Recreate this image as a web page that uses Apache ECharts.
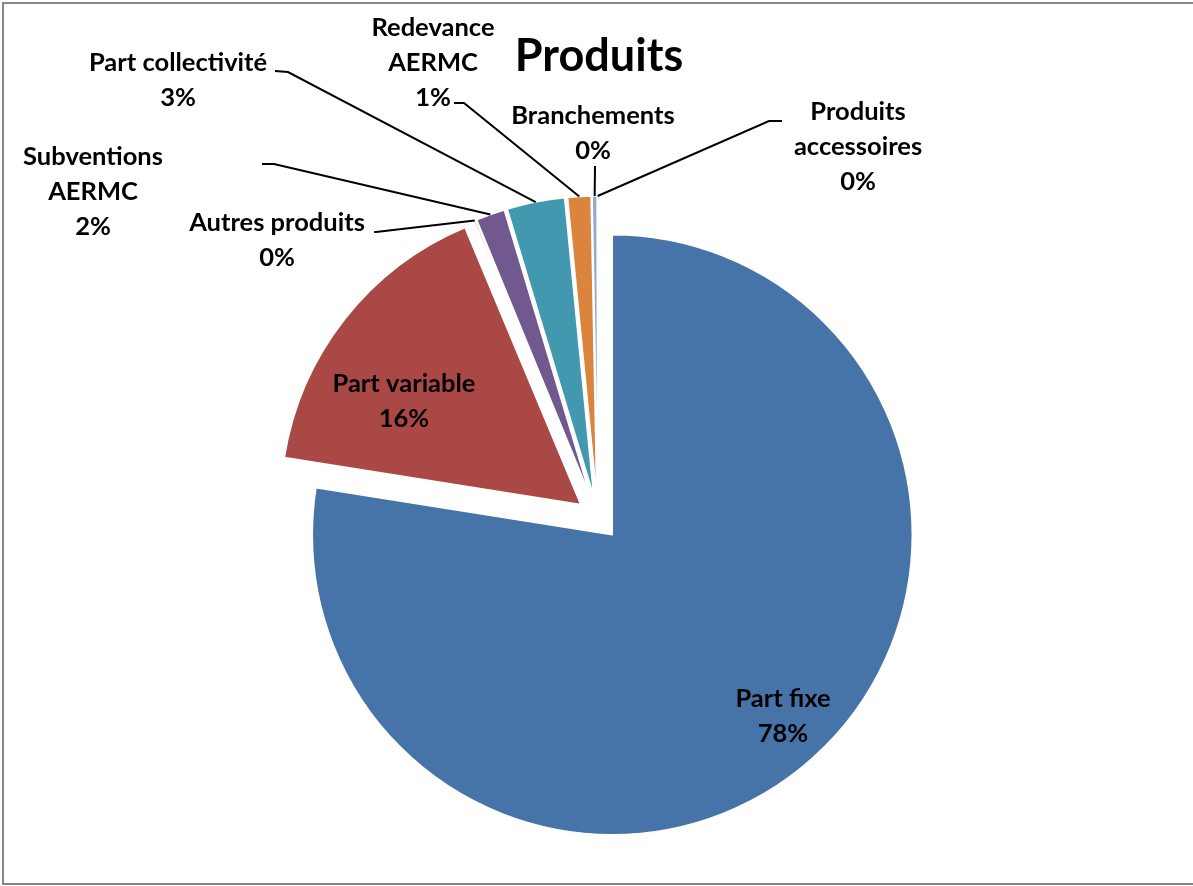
<!DOCTYPE html>
<html>
<head>
<meta charset="utf-8">
<script src="https://cdn.jsdelivr.net/npm/echarts@6/dist/echarts.min.js"></script>
<style>
html,body{margin:0;padding:0;background:#fff;}
#chart{width:1193px;height:886px;}
</style>
</head>
<body>
<div id="chart"></div>
<script>
// ---- Data ----
const categories = ['Part fixe','Part variable','Autres produits','Subventions\nAERMC','Part collectivité','Redevance\nAERMC','Branchements','Produits\naccessoires'];
const values = [77.5, 16.2, 0.1, 1.55, 3.1, 1.25, 0.27, 0.03];
const colors = ['#4674A9','#AA4845','#9BBB59','#71588F','#4198AF','#DB843D','#93A9CF','#D19392'];

// ---- Label layout (text-block centres and leader elbows, in pixels) ----
const labelLayoutMap = {
  0: {x: 783, y: 716},
  1: {x: 404, y: 401},
  2: {x: 277, y: 240, elbow: [376, 232], end: [374, 232]},
  3: {x: 93,  y: 192, elbow: [274, 164], end: [262, 164]},
  4: {x: 178, y: 80,  elbow: [288, 72],  end: [275, 71]},
  5: {x: 433, y: 63,  elbow: [464, 103], end: [454, 103]},
  6: {x: 593, y: 133, elbow: [595, 166], end: [595, 166]},
  7: {x: 858, y: 147, elbow: [769, 121], end: [782, 121]}
};

const CENTER = [598, 518];
const R = 300;
const EXPLODE = 22;
const FONT = 'Lato';

const chart = echarts.init(document.getElementById('chart'));

const option = {
  animation: false,
  title: {
    text: 'Produits',
    left: 594, top: 24,
    textAlign: 'center',
    textStyle: {fontFamily: FONT, fontWeight: 'bold', fontSize: 45, lineHeight: 54, color: '#000'}
  },
  graphic: [{
    type: 'rect',
    shape: {x: 3, y: 3, width: 1200, height: 881},
    style: {fill: 'none', stroke: '#878787', lineWidth: 2},
    silent: true
  }],
  series: [
    {
      // visible, exploded slices
      type: 'pie',
      z: 2,
      center: CENTER,
      radius: [0, R],
      startAngle: 90,
      clockwise: true,
      selectedMode: 'multiple',
      selectedOffset: EXPLODE,
      silent: true,
      itemStyle: {borderColor: '#fff', borderWidth: 1.5},
      emphasis: {disabled: true},
      label: {show: false},
      labelLine: {show: false},
      data: categories.map((c, i) => ({
        name: c, value: values[i], selected: true,
        itemStyle: {color: colors[i]}
      }))
    },
    {
      // transparent carrier for labels; its rim sits at the exploded rim
      type: 'pie',
      z: 3,
      center: CENTER,
      radius: [0, R + EXPLODE],
      startAngle: 90,
      clockwise: true,
      silent: true,
      avoidLabelOverlap: false,
      minShowLabelAngle: 0,
      itemStyle: {color: 'rgba(0,0,0,0)', borderWidth: 0},
      emphasis: {disabled: true},
      label: {
        show: true,
        position: 'outside',
        fontFamily: FONT, fontWeight: 'bold', fontSize: 25.5, color: '#000',
        lineHeight: 35,
        align: 'center',
        formatter: p => p.name + '\n' + Math.round(p.percent) + '%'
      },
      labelLine: {show: true, length: 10, length2: 10, lineStyle: {color: '#000', width: 2}},
      labelLayout: function (params) {
        const L = labelLayoutMap[params.dataIndex];
        const out = {x: L.x, y: L.y, align: 'center', verticalAlign: 'middle'};
        if (L.elbow && params.labelLinePoints) {
          out.labelLinePoints = [params.labelLinePoints[0], L.elbow, L.end];
        }
        return out;
      },
      data: categories.map((c, i) => ({
        name: c, value: values[i],
        labelLine: {show: i > 1},
        label: i <= 1 ? {position: 'inside'} : {}
      }))
    }
  ]
};
chart.setOption(option);
</script>
</body>
</html>
